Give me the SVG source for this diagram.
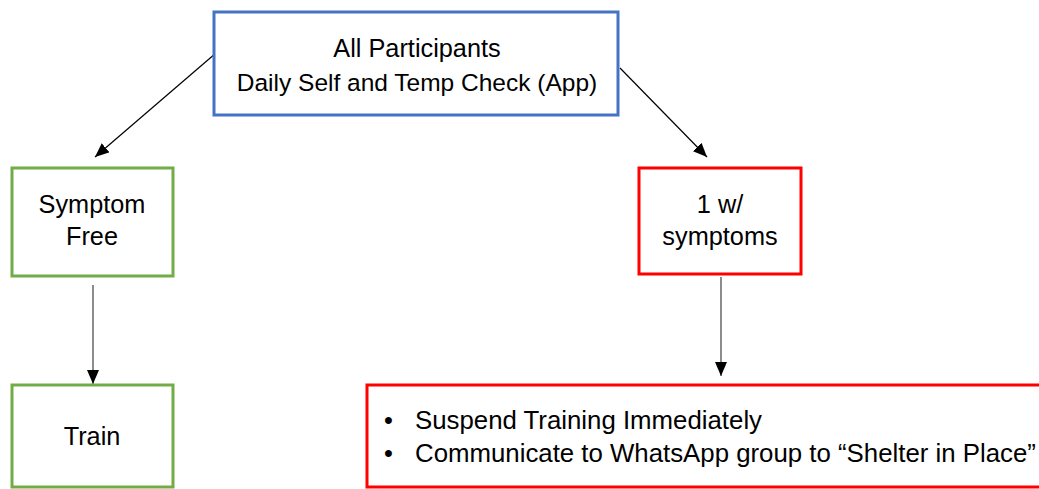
<svg xmlns="http://www.w3.org/2000/svg" width="1039" height="489" viewBox="0 0 1039 489">
<defs>
<style>
.t{font-family:"Liberation Sans",Arial,sans-serif;font-size:25.3px;fill:#000}
.c{text-anchor:middle}
.box{fill:#fff;stroke-width:3}
.blue{stroke:#4472C4}
.green{stroke:#70AD47}
.red{stroke:#FF0000}
.conn{stroke:#000;stroke-width:1.2;fill:none;marker-end:url(#ah)}
</style>
<marker id="ah" markerUnits="userSpaceOnUse" markerWidth="15" markerHeight="12" refX="14" refY="6" orient="auto">
<path d="M0,0 L14,6 L0,12 Z" fill="#000"/>
</marker>
</defs>
<rect width="1039" height="489" fill="#fff"/>
<g id="connectors">
<line class="conn" x1="216" y1="53" x2="95" y2="157"/>
<line class="conn" x1="620" y1="68" x2="707" y2="157"/>
<line class="conn" x1="93" y1="285" x2="93" y2="384" style="stroke:#404040"/>
<line class="conn" x1="721" y1="277" x2="721" y2="376" style="stroke:#404040"/>
</g>
<g id="all-participants">
<rect class="box blue" x="214" y="12" width="404" height="103"/>
<text class="t c" x="417" y="57">All Participants</text>
<text class="t c" x="417" y="91" style="font-size:24.5px">Daily Self and Temp Check (App)</text>
</g>
<g id="symptom-free">
<rect class="box green" x="12" y="168" width="161" height="108"/>
<text class="t c" x="92" y="213">Symptom</text>
<text class="t c" x="92" y="245">Free</text>
</g>
<g id="train">
<rect class="box green" x="12" y="385" width="161" height="102"/>
<text class="t c" x="92" y="445">Train</text>
</g>
<g id="with-symptoms">
<rect class="box red" x="639" y="168" width="162" height="106"/>
<text class="t c" x="720" y="213">1 w/</text>
<text class="t c" x="720" y="245">symptoms</text>
</g>
<g id="actions">
<rect class="box red" x="367" y="385" width="680" height="102"/>
<text class="t" x="384" y="429">•</text>
<text class="t" x="415" y="429" style="font-size:25.8px">Suspend Training Immediately</text>
<text class="t" x="384" y="462">•</text>
<text class="t" x="415" y="462" style="font-size:25.8px">Communicate to WhatsApp group to “Shelter in Place”</text>
</g>
</svg>
